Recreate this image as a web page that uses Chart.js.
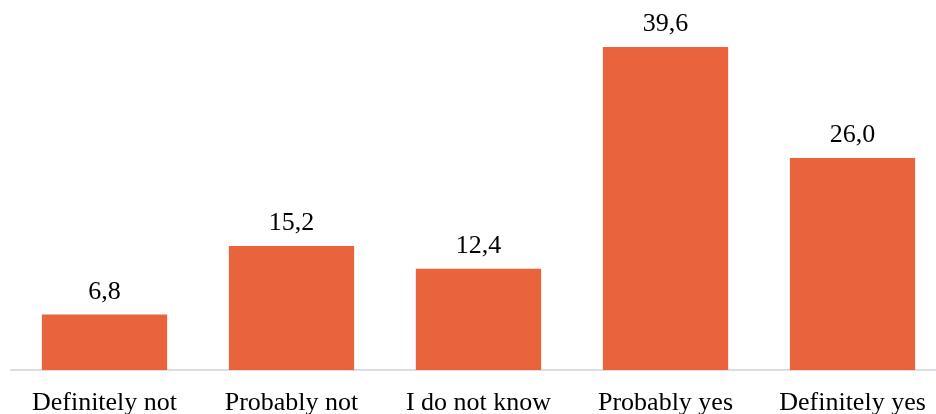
<!DOCTYPE html>
<html>
<head>
<meta charset="utf-8">
<script src="https://cdn.jsdelivr.net/npm/chart.js@4"></script>
<style>
  html, body { margin: 0; padding: 0; background: #fff; overflow: hidden; }
  canvas { display: block; }
</style>
</head>
<body>
<canvas id="answerChart" width="960" height="436"></canvas>
<script>
const categories = ['Definitely not', 'Probably not', 'I do not know', 'Probably yes', 'Definitely yes'];
const values = [6.8, 15.2, 12.4, 39.6, 26.0];

const serif = "'Liberation Serif', 'Times New Roman', serif";

// draw the value above each bar, with a decimal comma
const valueLabels = {
    id: 'valueLabels',
    afterDatasetsDraw(chart) {
        const ctx = chart.ctx;
        const meta = chart.getDatasetMeta(0);
        ctx.save();
        ctx.font = '26px ' + serif;
        ctx.fillStyle = '#000';
        ctx.textAlign = 'center';
        ctx.textBaseline = 'alphabetic';
        meta.data.forEach((bar, i) => {
            const txt = values[i].toFixed(1).replace('.', ',');
            ctx.fillText(txt, bar.x, bar.y - 16);
        });
        ctx.restore();
    }
};

document.addEventListener('DOMContentLoaded', function() {
    const el = document.getElementById('answerChart');
    new Chart(el, {
        type: 'bar',
        data: {
            labels: categories,
            datasets: [{
                data: values,
                backgroundColor: '#E9633D',
                borderWidth: 0,
                categoryPercentage: 1,
                barPercentage: 0.67
            }]
        },
        options: {
            responsive: false,
            animation: false,
            layout: {
                padding: { left: 11, right: 14, top: 3, bottom: 0 }
            },
            scales: {
                x: {
                    grid: { display: false, drawTicks: false },
                    border: { color: '#D9DEE3', width: 2 },
                    ticks: {
                        color: '#000',
                        padding: 20,
                        maxRotation: 0,
                        font: { family: serif, size: 26, lineHeight: 1 }
                    }
                },
                y: {
                    display: false,
                    min: 0,
                    max: 45
                }
            },
            plugins: {
                legend: { display: false },
                tooltip: { enabled: false }
            }
        },
        plugins: [valueLabels]
    });
});
</script>
</body>
</html>
